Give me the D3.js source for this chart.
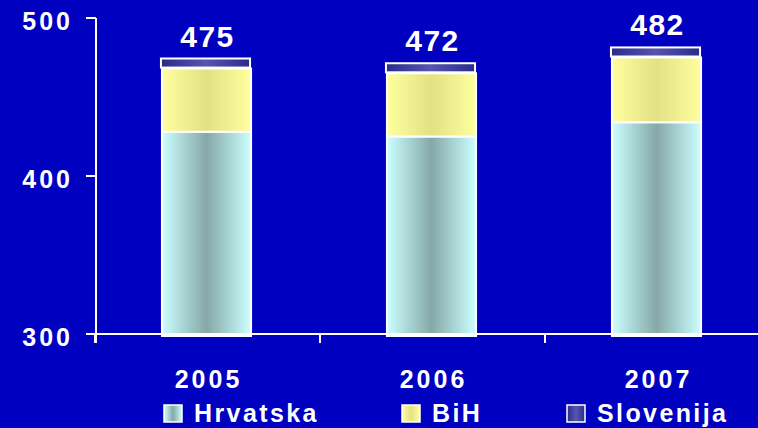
<!DOCTYPE html>
<html>
<head>
<script src="https://d3js.org/d3.v7.min.js"></script>
<style>
  body { margin: 0; background: #0000c0; }
  text { font-family: "Liberation Sans", Arial, sans-serif; font-weight: bold; fill: #fff; }
</style>
</head>
<body>
<svg width="758" height="428"></svg>
<script>
var years = ["2005", "2006", "2007"];
var hrvatska = [428, 425, 434];
var bih = [40, 40, 41];
var slovenija = [7, 7, 7];
var totals = [475, 472, 482];
var yTicks = [300, 400, 500];
var seriesNames = ["Hrvatska", "BiH", "Slovenija"];

var svg = d3.select("svg");
svg.append("rect").attr("width", 758).attr("height", 428).attr("fill", "#0000c0");

var x = d3.scaleBand().domain(years).range([93, 768]).paddingInner(0.604).paddingOuter(0.302);
var y = d3.scaleLinear().domain([300, 500]).range([334, 18]);

// gradients
var defs = svg.append("defs");
function grad(id, edge, mid) {
  var g = defs.append("linearGradient").attr("id", id);
  g.append("stop").attr("offset", "0%").attr("stop-color", edge);
  g.append("stop").attr("offset", "50%").attr("stop-color", mid);
  g.append("stop").attr("offset", "100%").attr("stop-color", edge);
}
grad("gH", "#ccffff", "#86a8a8");
grad("gB", "#ffffa0", "#e2e284");
grad("gS", "#2a2a8a", "#5656b0");

var colors = ["url(#gH)", "url(#gB)", "url(#gS)"];

var rows = years.map(function (yr, i) {
  return { year: yr, Hrvatska: hrvatska[i], BiH: bih[i], Slovenija: slovenija[i] };
});
var stacked = d3.stack().keys(seriesNames)(rows);

var bw = x.bandwidth();

stacked.forEach(function (s, k) {
  svg.append("g").selectAll("rect").data(s).enter().append("rect")
    .attr("x", function (d) { return x(d.data.year) + (k === 2 ? 0 : 1); })
    .attr("y", function (d) { return y(d[1]) + (k === 2 ? 1 : 0); })
    .attr("width", bw)
    .attr("height", function (d) {
      return k === 0 ? y(300) + 2 - y(d[1]) : y(d[0]) - y(d[1]) - (k === 2 ? 2 : 0);
    })
    .attr("fill", colors[k])
    .attr("stroke", "#fff")
    .attr("stroke-width", 2);
});

// axes
var axis = svg.append("g").attr("stroke", "#fff").attr("stroke-width", 2);
axis.append("line").attr("x1", 96).attr("x2", 96).attr("y1", y(500)).attr("y2", y(300) + 9);
axis.append("line").attr("x1", 86).attr("x2", 758).attr("y1", y(300)).attr("y2", y(300));
axis.selectAll(".yt").data(yTicks).enter().append("line")
  .attr("x1", 86).attr("x2", 96)
  .attr("y1", function (d) { return y(d); }).attr("y2", function (d) { return y(d); });
axis.selectAll(".xt").data(years).enter().append("line")
  .attr("x1", function (d) { return x(d) + bw / 2 - x.step() / 2 + 2; })
  .attr("x2", function (d) { return x(d) + bw / 2 - x.step() / 2 + 2; })
  .attr("y1", y(300)).attr("y2", y(300) + 9);

svg.selectAll(".ytl").data(yTicks).enter().append("text")
  .attr("x", 73).attr("y", function (d) { return y(d) + 12; })
  .attr("text-anchor", "end").attr("font-size", 25).attr("letter-spacing", 3)
  .text(function (d) { return d; });

svg.selectAll(".xtl").data(years).enter().append("text")
  .attr("x", function (d) { return x(d) + bw / 2 + 3; }).attr("y", 388)
  .attr("text-anchor", "middle").attr("font-size", 25).attr("letter-spacing", 3)
  .text(function (d) { return d; });

svg.selectAll(".tot").data(totals).enter().append("text")
  .attr("x", function (d, i) { return x(years[i]) + bw / 2 + 2; })
  .attr("y", function (d) { return y(d) - 11; })
  .attr("text-anchor", "middle").attr("font-size", 30).attr("letter-spacing", 1.5)
  .text(function (d) { return d; });

// legend
var legX = [164, 402, 567];
var leg = svg.selectAll(".leg").data(seriesNames).enter().append("g")
  .attr("transform", function (d, i) { return "translate(" + legX[i] + ",405)"; });
leg.append("rect").attr("width", 18).attr("height", 17)
  .attr("fill", function (d, i) { return colors[i]; })
  .attr("stroke", "#fff").attr("stroke-width", 1.5);
leg.append("text").attr("x", 30).attr("y", 17).attr("font-size", 25).attr("letter-spacing", 2.4)
  .text(function (d) { return d; });
</script>
</body>
</html>
